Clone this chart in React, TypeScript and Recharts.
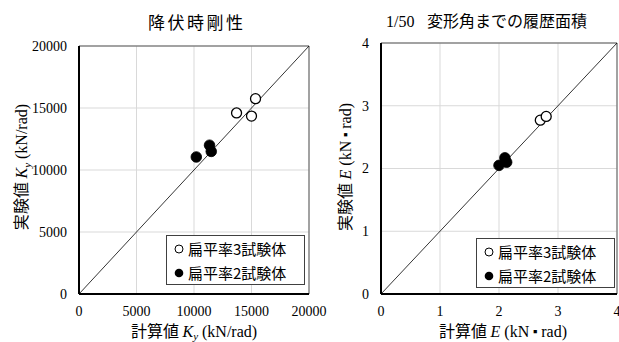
import React from 'react';
import {
  ScatterChart, Scatter, XAxis, YAxis, CartesianGrid, ReferenceLine, Legend,
} from 'recharts';

// ---- data ----
const K_TICKS = [0, 5000, 10000, 15000, 20000];
const E_TICKS = [0, 1, 2, 3, 4];

const K_OPEN_CALC = [13700, 15000, 15350];
const K_OPEN_EXP = [14600, 14350, 15750];
const K_FILL_CALC = [10200, 11350, 11500];
const K_FILL_EXP = [11050, 12000, 11500];

const E_OPEN_CALC = [2.7, 2.8];
const E_OPEN_EXP = [2.77, 2.83];
const E_FILL_CALC = [2.0, 2.1, 2.13];
const E_FILL_EXP = [2.05, 2.17, 2.1];

const SERIES_NAMES = ['扁平率3試験体', '扁平率2試験体'];
const TITLES = ['降伏時剛性', '変形角までの履歴面積'];

const zip = (xs: number[], ys: number[]) => xs.map((x, i) => ({ x, y: ys[i] }));

const CJK = "'Noto Sans CJK JP', 'Noto Sans', sans-serif";
const SERIF = "'Liberation Serif', 'Noto Sans CJK JP', serif";

const OpenDot = (p: any) => (
  <circle cx={p.cx} cy={p.cy} r={5} fill="#fff" stroke="#000" strokeWidth={1.3} />
);
const FillDot = (p: any) => (
  <circle cx={p.cx} cy={p.cy} r={5.3} fill="#000" stroke="#000" strokeWidth={0.8} />
);

const XTick = (p: any) => (
  <text x={p.x} y={p.y} dy="0.71em" textAnchor="middle" fontFamily={SERIF} fontSize={14} fill="#000">
    {p.payload.value}
  </text>
);
const YTick = (p: any) => (
  <text x={p.x} y={p.y} dy="0.355em" textAnchor="end" fontFamily={SERIF} fontSize={14} fill="#000">
    {p.payload.value}
  </text>
);

const LegendBox = () => (
  <div
    style={{
      width: 137,
      height: 48,
      border: '1px solid #404040',
      background: '#fff',
      boxSizing: 'content-box',
      position: 'relative',
    }}
  >
    <svg width={137} height={48} style={{ position: 'absolute', left: 0, top: 0 }}>
      <circle cx={12} cy={13} r={4} fill="#fff" stroke="#000" strokeWidth={1} />
      <text x={21} y={18.5} fontSize={15} fontFamily={CJK} fill="#000">{SERIES_NAMES[0]}</text>
      <circle cx={12} cy={37} r={4.3} fill="#000" />
      <text x={21} y={42.5} fontSize={15} fontFamily={CJK} fill="#000">{SERIES_NAMES[1]}</text>
    </svg>
  </div>
);

type PanelProps = {
  left: number;
  width: number;
  margin: { top: number; right: number; bottom: number; left: number };
  max: number;
  ticks: number[];
  openData: { x: number; y: number }[];
  fillData: { x: number; y: number }[];
  legendPos: { left: number; top: number };
};

const Panel = ({ left, width, margin, max, ticks, openData, fillData, legendPos }: PanelProps) => (
  <div style={{ position: 'absolute', left, top: 0 }}>
    <ScatterChart width={width} height={342} margin={margin}>
      <CartesianGrid stroke="#d9d9d9" strokeWidth={1} />
      <XAxis
        type="number"
        dataKey="x"
        domain={[0, max]}
        ticks={ticks}
        interval={0}
        tickSize={0}
        tickMargin={12}
        height={30}
        axisLine={{ stroke: '#000', strokeWidth: 2 }}
        tick={<XTick />}
      />
      <YAxis
        type="number"
        dataKey="y"
        domain={[0, max]}
        ticks={ticks}
        interval={0}
        tickSize={0}
        tickMargin={12}
        width={60}
        axisLine={{ stroke: '#000', strokeWidth: 2 }}
        tick={<YTick />}
      />
      <ReferenceLine y={max} stroke="#595959" strokeWidth={1} />
      <ReferenceLine x={max} stroke="#595959" strokeWidth={1} />
      <ReferenceLine
        segment={[{ x: 0, y: 0 }, { x: max, y: max }]}
        stroke="#000"
        strokeWidth={0.8}
      />
      <Scatter name={SERIES_NAMES[0]} data={openData} shape={OpenDot} isAnimationActive={false} />
      <Scatter name={SERIES_NAMES[1]} data={fillData} shape={FillDot} isAnimationActive={false} />
      <Legend
        layout="vertical"
        align="center"
        verticalAlign="middle"
        content={() => <LegendBox />}
        wrapperStyle={{ left: legendPos.left, top: legendPos.top, width: 139, height: 50 }}
      />
    </ScatterChart>
  </div>
);

export default function App() {
  return (
    <div style={{ position: 'absolute', left: 0, top: 0, width: 619, height: 342, background: '#fff', overflow: 'hidden' }}>
      <Panel
        left={0}
        width={340}
        margin={{ top: 46, right: 31, bottom: 18, left: 19 }}
        max={20000}
        ticks={K_TICKS}
        openData={zip(K_OPEN_CALC, K_OPEN_EXP)}
        fillData={zip(K_FILL_CALC, K_FILL_EXP)}
        legendPos={{ left: 166, top: 235 }}
      />
      <Panel
        left={310}
        width={309}
        margin={{ top: 43, right: 2, bottom: 18, left: 11 }}
        max={4}
        ticks={E_TICKS}
        openData={zip(E_OPEN_CALC, E_OPEN_EXP)}
        fillData={zip(E_FILL_CALC, E_FILL_EXP)}
        legendPos={{ left: 166, top: 238 }}
      />
      <svg width={619} height={342} style={{ position: 'absolute', left: 0, top: 0, pointerEvents: 'none' }}>
        {/* titles */}
        <text x={148} y={29} fontSize={17} letterSpacing={2.5} fontFamily={CJK} fill="#000">{TITLES[0]}</text>
        <text y={27} fill="#000">
          <tspan x={386} fontFamily={SERIF} fontSize={16}>1/50</tspan>
          <tspan x={427} fontFamily={CJK} fontSize={16}>{TITLES[1]}</tspan>
        </text>
        {/* left axis titles */}
        <text x={21} y={173} transform="rotate(-90, 21, 167)" textAnchor="middle" fill="#000" fontSize={16}>
          <tspan fontFamily={CJK}>実験値 </tspan>
          <tspan fontFamily={SERIF} fontStyle="italic">K</tspan>
          <tspan fontFamily={SERIF} fontStyle="italic" fontSize={11} dy={4}>y</tspan>
          <tspan fontFamily={SERIF} dy={-4}> (kN/rad)</tspan>
        </text>
        <text x={194} y={337} textAnchor="middle" fill="#000" fontSize={16}>
          <tspan fontFamily={CJK}>計算値 </tspan>
          <tspan fontFamily={SERIF} fontStyle="italic">K</tspan>
          <tspan fontFamily={SERIF} fontStyle="italic" fontSize={11} dy={3}>y</tspan>
          <tspan fontFamily={SERIF} dy={-3}> (kN/rad)</tspan>
        </text>
        {/* right axis titles */}
        <text x={345} y={173} transform="rotate(-90, 345, 167)" textAnchor="middle" fill="#000" fontSize={16}>
          <tspan fontFamily={CJK}>実験値 </tspan>
          <tspan fontFamily={SERIF} fontStyle="italic">E</tspan>
          <tspan fontFamily={SERIF}> (kN</tspan>
          <tspan fontFamily={CJK} fontSize={12}>▪</tspan>
          <tspan fontFamily={SERIF}>rad)</tspan>
        </text>
        <text x={503} y={337} textAnchor="middle" fill="#000" fontSize={16}>
          <tspan fontFamily={CJK}>計算値 </tspan>
          <tspan fontFamily={SERIF} fontStyle="italic">E</tspan>
          <tspan fontFamily={SERIF}> (kN</tspan>
          <tspan fontFamily={CJK} fontSize={12}>▪</tspan>
          <tspan fontFamily={SERIF}>rad)</tspan>
        </text>
      </svg>
    </div>
  );
}
